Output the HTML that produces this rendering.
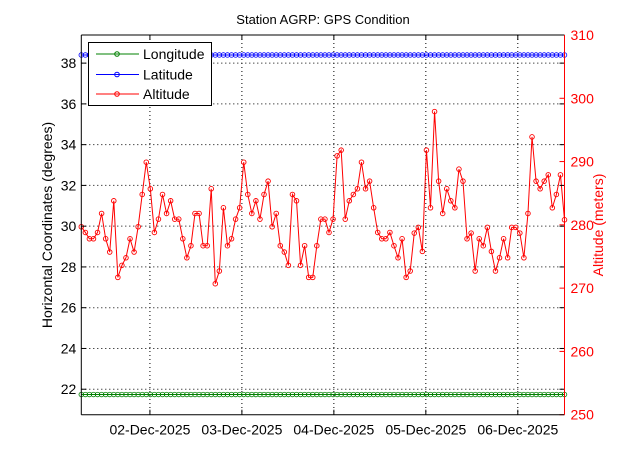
<!DOCTYPE html>
<html><head><meta charset="utf-8"><style>
body{margin:0;background:#fff}
svg{display:block;font-family:"Liberation Sans",sans-serif}
</style></head><body>
<svg id="chart" width="623" height="466" viewBox="0 0 623 466" xmlns="http://www.w3.org/2000/svg">
<rect width="623" height="466" fill="#fff"/>
<text x="323" y="24" font-size="13" text-anchor="middle">Station AGRP: GPS Condition</text>
<g id="grid"></g>
<g id="series"></g>
<g id="axes"></g>
<text transform="translate(52,225) rotate(-90)" font-size="14" text-anchor="middle">Horizontal Coordinates (degrees)</text>
<text transform="translate(603,225) rotate(-90)" font-size="14" text-anchor="middle" fill="#f00">Altitude (meters)</text>
<g>
<rect x="88.5" y="42.5" width="123" height="63" fill="#fff" stroke="#000"/>
<g><line x1="96" y1="54" x2="139" y2="54" stroke="#008000"/><circle cx="117" cy="54" r="2.3" fill="none" stroke="#008000"/><text x="143" y="59" font-size="14">Longitude</text></g>
<g><line x1="96" y1="74.5" x2="139" y2="74.5" stroke="#00f"/><circle cx="117" cy="74.5" r="2.3" fill="none" stroke="#00f"/><text x="143" y="79.5" font-size="14">Latitude</text></g>
<g><line x1="96" y1="94" x2="139" y2="94" stroke="#f00"/><circle cx="117" cy="94" r="2.3" fill="none" stroke="#f00"/><text x="143" y="99" font-size="14">Altitude</text></g>
</g>
</svg>
<script>
const altitude=[279.7,278.8,277.8,277.8,278.8,281.8,277.8,275.7,283.8,271.7,273.6,274.8,277.8,275.7,279.7,284.8,289.9,285.7,278.8,280.9,284.8,281.8,283.8,280.9,280.9,277.8,274.8,276.7,281.8,281.8,276.7,276.7,285.7,270.7,272.7,282.7,276.7,277.8,280.9,282.7,289.9,284.8,
281.8,283.8,280.9,284.8,286.9,279.7,281.8,276.7,275.7,273.6,284.8,283.8,273.6,276.7,271.7,271.7,276.7,280.9,280.9,278.8,280.9,290.9,291.8,280.9,283.8,284.8,285.7,289.9,285.7,286.9,282.7,278.8,277.8,277.8,278.8,276.7,274.8,277.8,271.7,272.7,
278.7,279.6,275.8,291.8,282.7,297.9,286.9,281.8,285.7,283.8,282.7,288.8,286.9,277.8,278.7,272.7,277.8,276.7,279.6,275.8,272.7,274.8,277.8,274.8,279.6,279.6,278.7,274.8,281.8,293.9,286.9,285.7,286.9,287.9,282.7,284.8,287.9,280.8];
const longitudeValue=21.74;
const latitudeValue=38.4;
const leftTicks=[22,24,26,28,30,32,34,36,38];
const rightTicks=[250,260,270,280,290,300,310];
const dateTickPos=[16.9,39.55,62.2,84.85,107.5];
const dateTickLabels=["02-Dec-2025","03-Dec-2025","04-Dec-2025","05-Dec-2025","06-Dec-2025"];

const L=81.3,R=564.5,T=35,B=414.7;
const n=altitude.length;
const x=i=>L+i*(R-L)/(n-1);
const yL=v=>T+(39.38-v)*(B-T)/(39.38-20.75);
const yR=v=>T+(310-v)*(B-T)/60;
const NS="http://www.w3.org/2000/svg";
function mk(tag,parent,attrs){const e=document.createElementNS(NS,tag);for(const k in attrs)e.setAttribute(k,attrs[k]);parent.appendChild(e);return e;}
const grid=document.getElementById('grid'),series=document.getElementById('series'),axes=document.getElementById('axes');

leftTicks.forEach(v=>{const y=yL(v);
const g=mk('line',grid,{x1:L,x2:R,y1:y,y2:y,stroke:'#000','stroke-dasharray':'1 3'});


mk('line',axes,{x1:L,x2:L+5,y1:y,y2:y,stroke:'#000'});
mk('line',axes,{x1:R-5,x2:R,y1:y,y2:y,stroke:'#000'});
const t=mk('text',axes,{x:L-5,y:y+5,'font-size':14,'text-anchor':'end'});t.textContent=v;


});
dateTickPos.forEach((p,k)=>{const xx=x(p);
const g=mk('line',grid,{x1:xx,x2:xx,y1:T,y2:B,stroke:'#000','stroke-dasharray':'1 3'});


mk('line',axes,{x1:xx,x2:xx,y1:B,y2:B-5,stroke:'#000'});
mk('line',axes,{x1:xx,x2:xx,y1:T,y2:T+5,stroke:'#000'});
const t=mk('text',axes,{x:xx,y:B+20,'font-size':14,'text-anchor':'middle'});t.textContent=dateTickLabels[k];


});
rightTicks.forEach(v=>{const y=yR(v);
mk('line',axes,{x1:R-5,x2:R,y1:y,y2:y,stroke:'#f00'});
const t=mk('text',axes,{x:R+6,y:y+5,'font-size':14,fill:'#f00'});t.textContent=v;


});

function flat(val,col,name,mcol){
const y=yL(val);
const l=mk('line',series,{x1:x(0),x2:x(n-1),y1:y,y2:y,stroke:col});


for(let i=0;i<n;i++)mk('circle',series,{cx:x(i),cy:y,r:2.3,fill:'none',stroke:mcol,'stroke-width':0.8});
}
flat(longitudeValue,'#008000','longitude','#008000');
flat(latitudeValue,'#00f','latitude','#00f');

const pl=mk('polyline',series,{points:altitude.map((v,i)=>x(i)+','+yR(v)).join(' '),fill:'none',stroke:'#f00'});


altitude.forEach((v,i)=>{const c=mk('circle',series,{cx:x(i),cy:yR(v),r:2.3,fill:'none',stroke:'#f00','stroke-width':0.9});

});

mk('line',axes,{x1:L,x2:R,y1:T,y2:T,stroke:'#000'});
mk('line',axes,{x1:L,x2:R,y1:B,y2:B,stroke:'#000'});
mk('line',axes,{x1:L,x2:L,y1:T,y2:B,stroke:'#000'});
mk('line',axes,{x1:R,x2:R,y1:T,y2:B,stroke:'#f00'});
</script>
</body></html>
